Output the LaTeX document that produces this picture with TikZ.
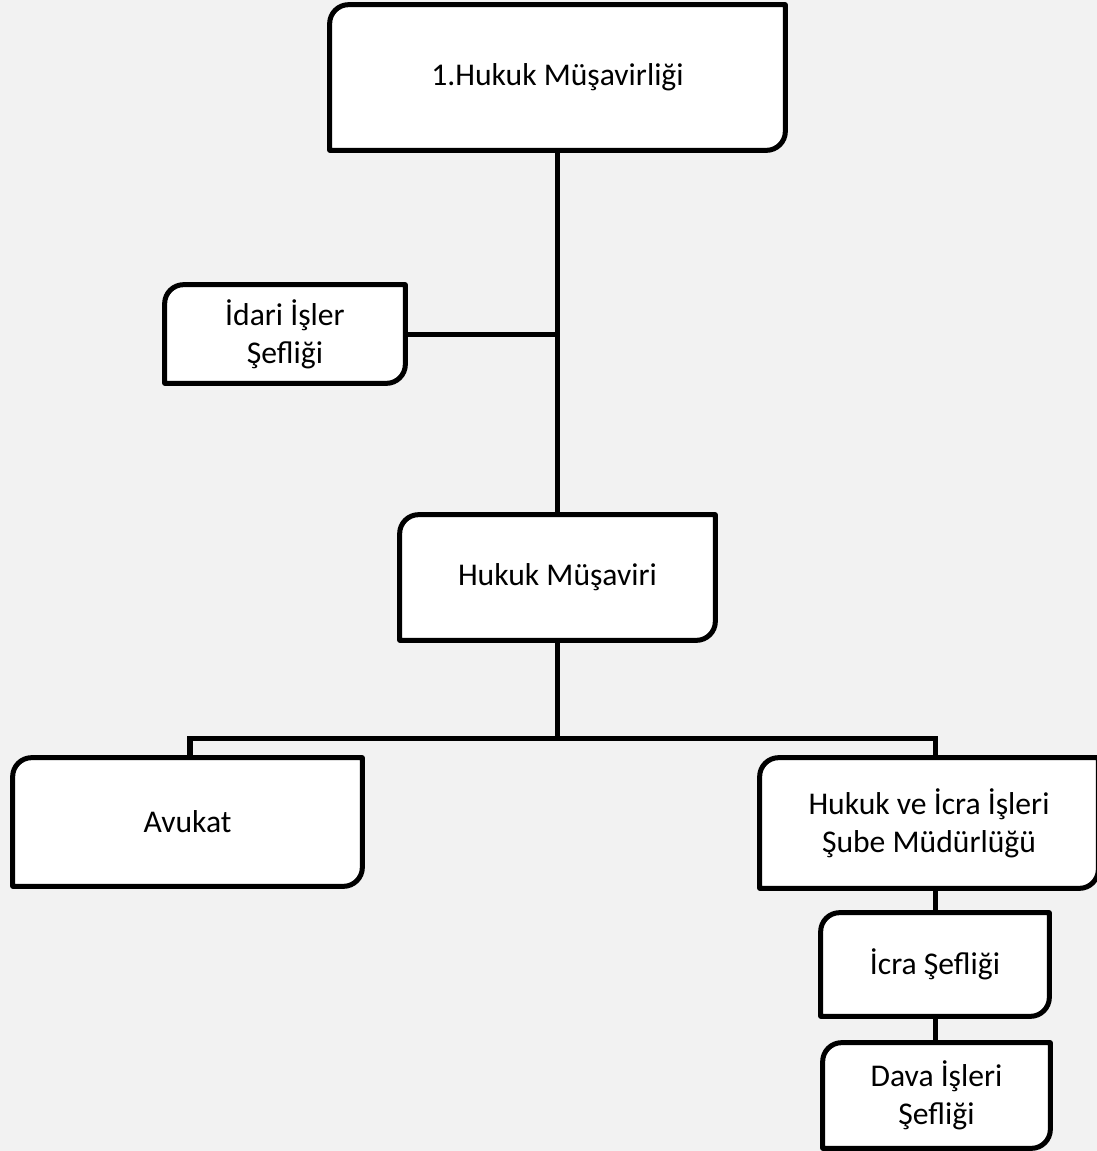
\documentclass[tikz,border=0pt]{standalone}
\usepackage{fontspec}
\setmainfont{Carlito}
\usetikzlibrary{backgrounds}
\definecolor{zemin}{HTML}{F2F2F2}

\tikzset{
  kutu/.style={inner sep=0pt, align=center, font=\fontsize{18}{21.6}\selectfont},
  hat/.style={line width=2.85pt},
}
\def\koseR{0.38cm}
% box outline: round top left and bottom right corners only
\newcommand{\kenar}[1]{%
  \draw[hat, fill=white, line join=round] (#1.south west) -- ([yshift=-\koseR]#1.north west)
    arc[start angle=180, end angle=90, radius=\koseR] -- (#1.north east)
    -- ([yshift=\koseR]#1.south east)
    arc[start angle=0, end angle=-90, radius=\koseR] -- cycle;}

\begin{document}
\begin{tikzpicture}
  \useasboundingbox (0,0) rectangle (21.94,-23.02);

  \node[kutu, minimum width=9.1cm,  minimum height=2.9cm]  (musavirlik) at (11.15,-1.55)  {1.Hukuk Müşavirliği};
  \node[kutu, minimum width=4.8cm,  minimum height=1.96cm] (idari)      at (5.7,-6.68)    {İdari İşler\\Şefliği};
  \node[kutu, minimum width=6.3cm,  minimum height=2.5cm]  (musavir)    at (11.15,-11.55) {Hukuk Müşaviri};
  \node[kutu, minimum width=6.98cm, minimum height=2.56cm] (avukat)     at (3.75,-16.44)  {Avukat};
  \node[kutu, minimum width=6.76cm, minimum height=2.6cm]  (hukukicra)  at (18.58,-16.46) {Hukuk ve İcra İşleri\\Şube Müdürlüğü};
  \node[kutu, minimum width=4.56cm, minimum height=2.06cm] (icra)       at (18.7,-19.29)  {İcra Şefliği};
  \node[kutu, minimum width=4.54cm, minimum height=2.1cm]  (dava)       at (18.73,-21.91) {Dava İşleri\\Şefliği};

  \begin{scope}[on background layer]
    \fill[zemin] (0,0) rectangle (21.94,-23.02);
    \foreach \n in {musavirlik,idari,musavir,avukat,hukukicra,icra,dava} {
      \kenar{\n}
    }
  \end{scope}

  \coordinate (bus) at (11.15,-14.76);

  \draw[hat] (musavirlik.south) -- (musavir.north);
  \draw[hat] (idari.east) -- (idari.east -| musavirlik.south);
  \draw[hat] (musavir.south) -- (bus);
  \draw[hat] ([xshift=0.05cm]avukat.north) |- (bus) -| (icra.north |- hukukicra.north);
  \draw[hat] (icra.north |- hukukicra.south) -- (icra.north);
  \draw[hat] (icra.south) -- (icra.south |- dava.north);
\end{tikzpicture}
\end{document}
